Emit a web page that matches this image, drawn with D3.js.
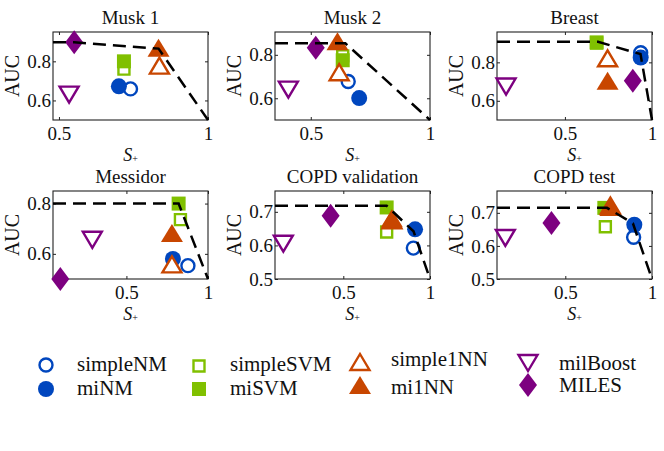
<!DOCTYPE html>
<html>
<head>
<meta charset="utf-8">
<script src="https://cdn.jsdelivr.net/npm/d3@7"></script>
<style>
  body { margin: 0; background: #fff; }
  svg text { font-family: "Liberation Serif", serif; fill: #111; }
</style>
</head>
<body>
<div id="chart"></div>
<script>
// datasets and methods
const datasets = ["Musk 1", "Musk 2", "Breast", "Messidor", "COPD validation", "COPD test"];
const methods = ["simpleNM", "miNM", "simpleSVM", "miSVM", "simple1NN", "mi1NN", "milBoost", "MILES"];

// [S+, AUC] per dataset, same order as datasets
const simpleNM  = [[0.740, 0.659], [0.657, 0.677], [0.935, 0.850], [0.877, 0.553], [0.904, 0.592], [0.894, 0.626]];
const miNM      = [[0.701, 0.672], [0.703, 0.601], [0.935, 0.825], [0.785, 0.580], [0.914, 0.648], [0.898, 0.664]];
const simpleSVM = [[0.718, 0.760], [0.634, 0.795], [0.682, 0.900], [0.831, 0.736], [0.750, 0.640], [0.731, 0.658]];
const miSVM     = [[0.718, 0.800], [0.634, 0.775], [0.682, 0.904], [0.820, 0.800], [0.750, 0.713], [0.725, 0.715]];
const simple1NN = [[0.837, 0.778], [0.619, 0.720], [0.745, 0.821], [0.779, 0.558], [0.780, 0.675], [0.760, 0.722]];
const mi1NN     = [[0.834, 0.870], [0.612, 0.862], [0.745, 0.704], [0.779, 0.683], [0.780, 0.681], [0.760, 0.718]];
const milBoost  = [[0.534, 0.630], [0.406, 0.640], [0.162, 0.674], [0.291, 0.656], [0.154, 0.605], [0.154, 0.624]];
const MILES     = [[0.551, 0.897], [0.521, 0.833], [0.890, 0.704], [0.095, 0.500], [0.427, 0.688], [0.420, 0.669]];

// dashed front per dataset
const frontiers = [
  [[0.48, 0.897], [0.551, 0.897], [0.834, 0.865], [1, 0.5]],
  [[0.35, 0.853], [0.645, 0.853], [1, 0.5]],
  [[0.11, 0.907], [0.69, 0.907], [0.934, 0.843], [1, 0.5]],
  [[0.05, 0.8], [0.82, 0.8], [1, 0.5]],
  [[0.106, 0.718], [0.75, 0.718], [0.905, 0.642], [1, 0.5]],
  [[0.106, 0.715], [0.74, 0.715], [0.805, 0.695], [0.89, 0.668], [1, 0.5]]
];

// axis ranges and ticks
const xDomains = [[0.48, 1], [0.35, 1], [0.11, 1], [0.05, 1], [0.106, 1], [0.106, 1]];
const yDomains = [[0.5, 0.95], [0.5, 0.905], [0.5, 0.958], [0.5, 0.85], [0.5, 0.762], [0.5, 0.766]];
const xTicks = [0.5, 1];
const yTicks = [[0.6, 0.8], [0.6, 0.8], [0.6, 0.8], [0.6, 0.8], [0.5, 0.6, 0.7], [0.5, 0.6, 0.7]];

const values = { simpleNM, miNM, simpleSVM, miSVM, simple1NN, mi1NN, milBoost, MILES };

const blue = "#0046be", green = "#80c000", orange = "#c84600", purple = "#7d0080";
const styles = {
  simpleNM:  { shape: "circle",  color: blue,   open: true },
  miNM:      { shape: "circle",  color: blue,   open: false },
  simpleSVM: { shape: "square",  color: green,  open: true },
  miSVM:     { shape: "square",  color: green,  open: false },
  simple1NN: { shape: "tri",     color: orange, open: true },
  mi1NN:     { shape: "tri",     color: orange, open: false },
  milBoost:  { shape: "tridown", color: purple, open: true },
  MILES:     { shape: "diamond", color: purple, open: false }
};

function markerPath(shape, open) {
  if (shape === "circle") {
    const r = open ? 6.5 : 8;
    const p = d3.path(); p.arc(0, 0, r, 0, 2 * Math.PI); return p.toString();
  }
  if (shape === "square") {
    const h = open ? 5.5 : 7;
    return `M${-h},${-h}H${h}V${h}H${-h}Z`;
  }
  if (shape === "tri") {
    const w = open ? 9.5 : 11, h = open ? 8 : 9;
    return `M0,${-h}L${w},${h}L${-w},${h}Z`;
  }
  if (shape === "tridown") {
    const w = 9.5, h = 8;
    return `M0,${h}L${w},${-h}L${-w},${-h}Z`;
  }
  // diamond
  return "M0,-12L9,0L0,12L-9,0Z";
}

function drawMarker(g, m, x, y) {
  const s = styles[m];
  g.append("path")
    .attr("d", markerPath(s.shape, s.open))
    .attr("transform", `translate(${x},${y})`)
    .attr("fill", s.open ? "white" : s.color)
    .attr("stroke", s.open ? s.color : "none")
    .attr("stroke-width", s.open ? 2.4 : 0);
}

const W = 664, H = 451;
const serif = "Liberation Serif";
const svg = d3.select("#chart").append("svg").attr("width", W).attr("height", H)
  .attr("font-family", serif);

const colX = [53, 275, 497], rowY = [32, 191];
const pw = 155, ph = 88;

datasets.forEach((name, i) => {
  const left = colX[i % 3], top = rowY[Math.floor(i / 3)];
  const g = svg.append("g").attr("transform", `translate(${left},${top})`);

  const x = d3.scaleLinear().domain(xDomains[i]).range([0, pw]);
  const y = d3.scaleLinear().domain(yDomains[i]).range([ph, 0]);

  // ticks (inside) and labels
  const fmt = d => d === 1 ? "1" : d3.format(".1f")(d);
  g.append("g").attr("transform", `translate(0,${ph})`)
    .call(d3.axisBottom(x).tickValues(xTicks).tickSizeInner(-3).tickSizeOuter(0).tickPadding(7).tickFormat(fmt));
  g.append("g").call(d3.axisTop(x).tickValues(xTicks).tickSizeInner(-3).tickSizeOuter(0).tickFormat(""));
  g.append("g")
    .call(d3.axisLeft(y).tickValues(yTicks[i]).tickSizeInner(-3).tickSizeOuter(0).tickPadding(2).tickFormat(fmt));
  g.append("g").attr("transform", `translate(${pw},0)`)
    .call(d3.axisRight(y).tickValues(yTicks[i]).tickSizeInner(-3).tickSizeOuter(0).tickFormat(""));
  g.selectAll(".domain").remove();
  g.selectAll("g").attr("font-family", serif);
  g.selectAll(".tick line").attr("stroke", "#222");
  g.selectAll(".tick text").attr("font-size", 19).attr("font-family", serif).attr("fill", "#111");

  g.append("rect").attr("width", pw).attr("height", ph)
    .attr("fill", "none").attr("stroke", "#222").attr("stroke-width", 1.1);

  // markers
  methods.forEach(m => {
    const v = values[m][i];
    drawMarker(g, m, x(v[0]), y(v[1]));
  });

  // dashed front on top
  g.append("path")
    .datum(frontiers[i])
    .attr("d", d3.line().x(d => x(d[0])).y(d => y(d[1])))
    .attr("fill", "none").attr("stroke", "#000")
    .attr("stroke-width", 2.5).attr("stroke-dasharray", "13,7");

  // title
  g.append("text").attr("x", pw / 2).attr("y", -8)
    .attr("text-anchor", "middle").attr("font-family", serif)
    .attr("font-size", 19).text(name);

  // axis labels
  g.append("text")
    .attr("transform", `translate(-34,${ph / 2}) rotate(-90)`)
    .attr("text-anchor", "middle").attr("font-family", serif)
    .attr("font-size", 20).text("AUC");
  const sl = g.append("text").attr("x", pw / 2).attr("y", ph + 41)
    .attr("text-anchor", "middle").attr("font-family", serif).attr("font-size", 18);
  sl.append("tspan").attr("font-style", "italic").text("S");
  sl.append("tspan").attr("font-size", 10).attr("dy", 1).text("+");
});

// legend
const legCols = [
  { mx: 46, tx: 77, items: ["simpleNM", "miNM"], my: [365, 389], ty: [365, 389] },
  { mx: 199, tx: 230, items: ["simpleSVM", "miSVM"], my: [366, 389], ty: [365, 389] },
  { mx: 360, tx: 391, items: ["simple1NN", "mi1NN"], my: [362, 385], ty: [360, 388] },
  { mx: 528, tx: 559, items: ["milBoost", "MILES"], my: [363, 385], ty: [364, 386] }
];
const leg = svg.append("g");
legCols.forEach(c => {
  c.items.forEach((m, k) => {
    drawMarker(leg, m, c.mx, c.my[k]);
    leg.append("text").attr("x", c.tx).attr("y", c.ty[k] + 6)
      .attr("font-family", serif).attr("font-size", 21).text(m);
  });
});
</script>
</body>
</html>
